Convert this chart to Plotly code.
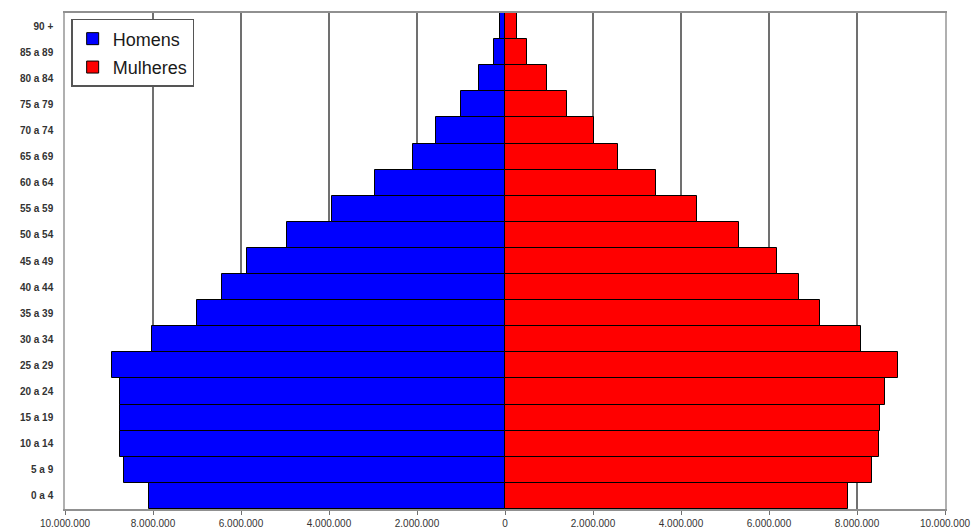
import plotly.graph_objects as go

# Faixas etárias (de baixo para cima)
faixas = ["0 a 4", "5 a 9", "10 a 14", "15 a 19", "20 a 24", "25 a 29",
          "30 a 34", "35 a 39", "40 a 44", "45 a 49", "50 a 54", "55 a 59",
          "60 a 64", "65 a 69", "70 a 74", "75 a 79", "80 a 84", "85 a 89",
          "90 +"]

# População por sexo
homens = [8090000, 8650000, 8760000, 8740000, 8760000, 8930000,
          8020000, 7000000, 6430000, 5860000, 4950000, 3940000,
          2950000, 2090000, 1570000, 1010000, 600000, 260000,
          110000]
mulheres = [7790000, 8340000, 8500000, 8520000, 8630000, 8940000,
            8090000, 7170000, 6690000, 6190000, 5320000, 4370000,
            3430000, 2570000, 2030000, 1420000, 950000, 490000,
            280000]

# Eixo horizontal
tick_vals = [-10000000, -8000000, -6000000, -4000000, -2000000, 0,
             2000000, 4000000, 6000000, 8000000, 10000000]
tick_text = ["10.000.000", "8.000.000", "6.000.000", "4.000.000",
             "2.000.000", "0", "2.000.000", "4.000.000", "6.000.000",
             "8.000.000", "10.000.000"]

fig = go.Figure()
fig.add_trace(go.Bar(
    y=faixas, x=[-v for v in homens], orientation="h", name="Homens",
    legendgroup="h",
    marker=dict(color="#0000FF", line=dict(color="#000000", width=1)),
))
fig.add_trace(go.Bar(
    y=faixas, x=mulheres, orientation="h", name="Mulheres",
    legendgroup="m",
    marker=dict(color="#FF0000", line=dict(color="#000000", width=1)),
))

fig.update_layout(
    width=980, height=532,
    margin=dict(l=65, r=35, t=13, b=23, autoexpand=False),
    barmode="relative", bargap=0,
    plot_bgcolor="#FFFFFF", paper_bgcolor="#FFFFFF",
    font=dict(family="Liberation Sans, Arial, sans-serif", color="#333333"),
    showlegend=True,
    legend=dict(
        x=0.007, y=0.988, xanchor="left", yanchor="top",
        bgcolor="#FFFFFF", bordercolor="#555555", borderwidth=1.5,
        font=dict(size=18, color="#1a1a1a"),
        traceorder="grouped", tracegroupgap=2,
        itemwidth=30,
    ),
    xaxis=dict(
        range=[-10000000, 10000000],
        tickvals=tick_vals, ticktext=tick_text,
        tickfont=dict(size=10, color="#333333"),
        showgrid=True, gridcolor="#707070", gridwidth=1.5,
        zeroline=False, automargin=False,
        showline=True, linecolor="#909090", linewidth=1.5, mirror=True,
        ticks="outside", ticklen=4, tickcolor="#707070",
    ),
    yaxis=dict(
        type="category", categoryorder="array", categoryarray=faixas,
        tickfont=dict(size=10, color="#333333", weight="bold"),
        showgrid=False, zeroline=False, automargin=False,
        showline=True, linecolor="#B0B0B0", linewidth=1.5, mirror=True,
        ticks="", ticklabelstandoff=8,
    ),
)

fig.write_html("out.html")
